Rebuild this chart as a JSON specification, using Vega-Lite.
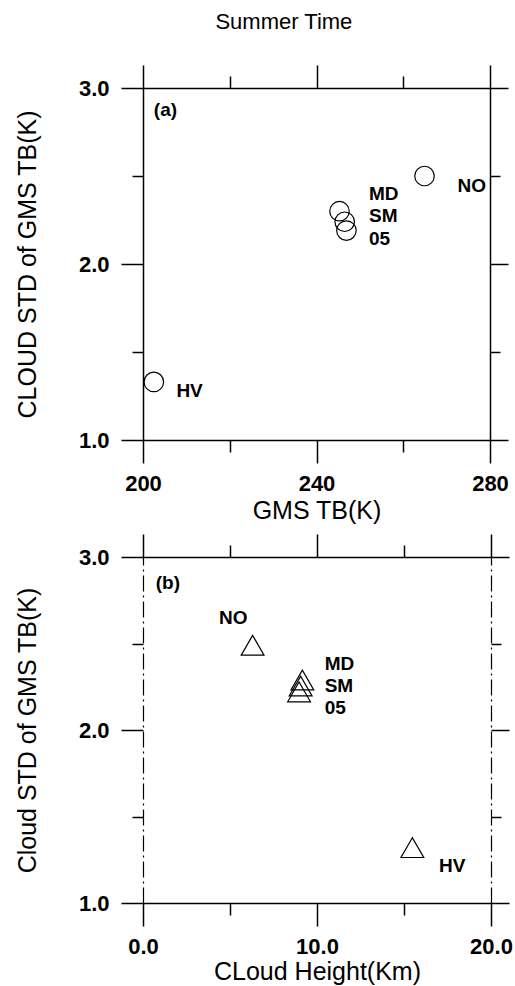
{
  "$schema": "https://vega.github.io/schema/vega-lite/v6.json",
  "padding": {"left": 15, "top": 11, "right": 8, "bottom": 2},
  "background": "white",
  "title": {"text": "Summer Time", "font": "Liberation Sans", "fontSize": 22, "fontWeight": "normal", "color": "black", "anchor": "start", "frame": "bounds", "dx": 200, "offset": 30},
  "datasets": {
    "a": [
      {"site": "HV", "tb": 202.5, "std": 1.33},
      {"site": "NO", "tb": 264.9, "std": 2.50},
      {"site": "MD", "tb": 245.3, "std": 2.30},
      {"site": "SM", "tb": 246.5, "std": 2.24},
      {"site": "05", "tb": 246.9, "std": 2.19}
    ],
    "alab": [
      {"label": "(a)", "tb": 202.5, "std": 2.875},
      {"label": "MD", "tb": 252.1, "std": 2.40},
      {"label": "SM", "tb": 252.1, "std": 2.273},
      {"label": "05", "tb": 252.1, "std": 2.142},
      {"label": "NO", "tb": 272.5, "std": 2.445},
      {"label": "HV", "tb": 207.7, "std": 1.28}
    ],
    "b": [
      {"site": "NO", "height": 6.3, "std": 2.49},
      {"site": "MD", "height": 9.16, "std": 2.289},
      {"site": "SM", "height": 9.06, "std": 2.254},
      {"site": "05", "height": 8.97, "std": 2.22},
      {"site": "HV", "height": 15.48, "std": 1.32}
    ],
    "blab": [
      {"label": "(b)", "height": 0.73, "std": 2.852},
      {"label": "NO", "height": 4.37, "std": 2.649},
      {"label": "MD", "height": 10.44, "std": 2.383},
      {"label": "SM", "height": 10.44, "std": 2.254},
      {"label": "05", "height": 10.44, "std": 2.125},
      {"label": "HV", "height": 17.01, "std": 1.214}
    ]
  },
  "config": {
    "view": {"stroke": null},
    "font": "Liberation Sans",
    "axis": {
      "grid": false,
      "domainColor": "black",
      "domainWidth": 1.5,
      "tickColor": "black",
      "tickWidth": 1.5,
      "labelColor": "black",
      "titleColor": "black",
      "labelFont": "Liberation Sans",
      "titleFont": "Liberation Sans",
      "labelFontSize": 22,
      "labelFontWeight": "bold",
      "titleFontSize": 25,
      "titleFontWeight": "normal",
      "labelFlush": false,
      "labelOverlap": false
    }
  },
  "spacing": 10,
  "vconcat": [
    {
      "width": 347,
      "height": 352,
      "layer": [
        {
          "data": {"name": "a"},
          "mark": {"type": "point", "shape": "circle", "size": 380, "filled": false, "stroke": "black", "strokeWidth": 1.2, "opacity": 1},
          "encoding": {
            "x": {"field": "tb", "type": "quantitative", "scale": {"domain": [200, 280], "nice": false, "zero": false},
              "axis": {"orient": "bottom", "title": "GMS TB(K)", "values": [200, 220, 240, 260, 280], "format": "d",
                "labelExpr": "datum.value % 40 === 0 ? datum.label : ''",
                "tickSize": {"condition": {"test": "datum.value % 40 === 0", "value": 23}, "value": 12},
                "labelPadding": 10, "titlePadding": 4}},
            "y": {"field": "std", "type": "quantitative", "scale": {"domain": [1, 3], "nice": false, "zero": false},
              "axis": {"orient": "left", "title": "CLOUD STD of GMS TB(K)", "values": [1, 1.5, 2, 2.5, 3], "format": ".1f",
                "labelExpr": "datum.value % 1 === 0 ? datum.label : ''",
                "tickSize": {"condition": {"test": "datum.value % 1 === 0", "value": 22}, "value": 11},
                "labelPadding": 12, "titlePadding": 38}}
          }
        },
        {
          "data": {"name": "alab"},
          "mark": {"type": "text", "align": "left", "baseline": "middle", "fontSize": 19, "fontWeight": "bold", "color": "black"},
          "encoding": {
            "x": {"field": "tb", "type": "quantitative", "scale": {"domain": [200, 280], "nice": false, "zero": false},
              "axis": {"orient": "top", "title": null, "values": [200, 220, 240, 260, 280], "labels": false,
                "tickSize": {"condition": {"test": "datum.value % 40 === 0", "value": 23}, "value": 12}}},
            "y": {"field": "std", "type": "quantitative", "scale": {"domain": [1, 3], "nice": false, "zero": false},
              "axis": {"orient": "right", "title": null, "values": [1, 1.5, 2, 2.5, 3], "labels": false,
                "tickSize": {"condition": {"test": "datum.value % 1 === 0", "value": 18}, "value": 10}}},
            "text": {"field": "label", "type": "nominal"}
          }
        }
      ],
      "resolve": {"axis": {"x": "independent", "y": "independent"}}
    },
    {
      "width": 348,
      "height": 346,
      "layer": [
        {
          "data": {"name": "b"},
          "mark": {"type": "point", "shape": "triangle-up", "size": 520, "filled": false, "stroke": "black", "strokeWidth": 1.2, "opacity": 1},
          "encoding": {
            "x": {"field": "height", "type": "quantitative", "scale": {"domain": [0, 20], "nice": false, "zero": false},
              "axis": {"orient": "bottom", "title": "CLoud Height(Km)", "values": [0, 5, 10, 15, 20], "format": ".1f",
                "labelExpr": "datum.value % 10 === 0 ? datum.label : ''",
                "tickSize": {"condition": {"test": "datum.value % 10 === 0", "value": 23}, "value": 12},
                "labelPadding": 10, "titlePadding": 2}},
            "y": {"field": "std", "type": "quantitative", "scale": {"domain": [1, 3], "nice": false, "zero": false},
              "axis": {"orient": "left", "title": "Cloud STD of GMS TB(K)", "values": [1, 1.5, 2, 2.5, 3], "format": ".1f",
                "labelExpr": "datum.value % 1 === 0 ? datum.label : ''",
                "tickSize": {"condition": {"test": "datum.value % 1 === 0", "value": 22}, "value": 11},
                "domainDash": [16, 4, 2, 4], "domainWidth": 1.2,
                "labelPadding": 12, "titlePadding": 38}}
          }
        },
        {
          "data": {"name": "blab"},
          "mark": {"type": "text", "align": "left", "baseline": "middle", "fontSize": 19, "fontWeight": "bold", "color": "black"},
          "encoding": {
            "x": {"field": "height", "type": "quantitative", "scale": {"domain": [0, 20], "nice": false, "zero": false},
              "axis": {"orient": "top", "title": null, "values": [0, 5, 10, 15, 20], "labels": false,
                "tickSize": {"condition": {"test": "datum.value % 10 === 0", "value": 23}, "value": 12}}},
            "y": {"field": "std", "type": "quantitative", "scale": {"domain": [1, 3], "nice": false, "zero": false},
              "axis": {"orient": "right", "title": null, "values": [1, 1.5, 2, 2.5, 3], "labels": false,
                "domainDash": [16, 4, 2, 4], "domainWidth": 1.2,
                "tickSize": {"condition": {"test": "datum.value % 1 === 0", "value": 18}, "value": 10}}},
            "text": {"field": "label", "type": "nominal"}
          }
        }
      ],
      "resolve": {"axis": {"x": "independent", "y": "independent"}}
    }
  ]
}
